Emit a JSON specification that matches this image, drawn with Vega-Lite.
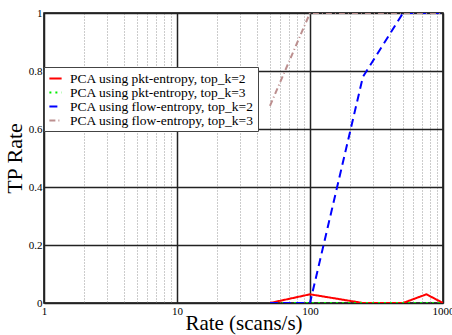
{
  "$schema": "https://vega.github.io/schema/vega-lite/v6.json",
  "width": 399,
  "height": 290,
  "autosize": "none",
  "padding": {"left": 44, "top": 13, "right": 9, "bottom": 32},
  "background": "white",
  "config": {
    "view": {"stroke": "black", "strokeWidth": 1.5},
    "font": "Liberation Serif",
    "style": {"guide-label": {"font": "Liberation Serif", "fill": "black"}, "guide-title": {"font": "Liberation Serif"}},
    "legend": {"labelFont": "Liberation Serif", "labelFontSize": 13.5, "labelColor": "black"}
  },
  "data": {
    "values": [
      {"series": "PCA using pkt-entropy, top_k=2", "rate": 50, "tp": 0},
      {"series": "PCA using pkt-entropy, top_k=2", "rate": 100, "tp": 0.03},
      {"series": "PCA using pkt-entropy, top_k=2", "rate": 250, "tp": 0},
      {"series": "PCA using pkt-entropy, top_k=2", "rate": 500, "tp": 0},
      {"series": "PCA using pkt-entropy, top_k=2", "rate": 750, "tp": 0.03},
      {"series": "PCA using pkt-entropy, top_k=2", "rate": 1000, "tp": 0},
      {"series": "PCA using pkt-entropy, top_k=3", "rate": 50, "tp": 0},
      {"series": "PCA using pkt-entropy, top_k=3", "rate": 100, "tp": 0},
      {"series": "PCA using pkt-entropy, top_k=3", "rate": 250, "tp": 0},
      {"series": "PCA using pkt-entropy, top_k=3", "rate": 500, "tp": 0},
      {"series": "PCA using pkt-entropy, top_k=3", "rate": 750, "tp": 0},
      {"series": "PCA using pkt-entropy, top_k=3", "rate": 1000, "tp": 0},
      {"series": "PCA using flow-entropy, top_k=2", "rate": 50, "tp": 0},
      {"series": "PCA using flow-entropy, top_k=2", "rate": 100, "tp": 0},
      {"series": "PCA using flow-entropy, top_k=2", "rate": 250, "tp": 0.78},
      {"series": "PCA using flow-entropy, top_k=2", "rate": 500, "tp": 1},
      {"series": "PCA using flow-entropy, top_k=2", "rate": 750, "tp": 1},
      {"series": "PCA using flow-entropy, top_k=2", "rate": 1000, "tp": 1},
      {"series": "PCA using flow-entropy, top_k=3", "rate": 50, "tp": 0.68},
      {"series": "PCA using flow-entropy, top_k=3", "rate": 100, "tp": 1},
      {"series": "PCA using flow-entropy, top_k=3", "rate": 250, "tp": 1},
      {"series": "PCA using flow-entropy, top_k=3", "rate": 500, "tp": 1},
      {"series": "PCA using flow-entropy, top_k=3", "rate": 750, "tp": 1},
      {"series": "PCA using flow-entropy, top_k=3", "rate": 1000, "tp": 1}
    ]
  },
  "mark": {"type": "line", "clip": true, "strokeWidth": 2},
  "encoding": {
    "x": {
      "field": "rate",
      "type": "quantitative",
      "scale": {"type": "log", "domain": [1, 1000], "nice": false},
      "axis": {
        "title": "Rate (scans/s)",
        "titleFont": "Liberation Serif",
        "titleFontSize": 21,
        "titleFontWeight": "normal",
        "titleColor": "black",
        "titlePadding": -4,
        "values": [1,2,3,4,5,6,7,8,9,10,20,30,40,50,60,70,80,90,100,200,300,400,500,600,700,800,900,1000],
        "labelExpr": "(datum.value == 1 || datum.value == 10 || datum.value == 100 || datum.value == 1000) ? datum.label : ''",
        "format": "d",
        "labelFont": "Liberation Serif",
        "labelFontSize": 11,
        "labelColor": "black",
        "labelPadding": 2,
        "labelFlush": false,
        "labelOverlap": false,
        "ticks": false,
        "domain": false,
        "grid": true,
        "gridColor": {"condition": {"test": "datum.value == 1 || datum.value == 10 || datum.value == 100 || datum.value == 1000", "value": "#222222"}, "value": "#999999"},
        "gridDash": {"condition": {"test": "datum.value == 1 || datum.value == 10 || datum.value == 100 || datum.value == 1000", "value": []}, "value": [1, 2]},
        "gridWidth": {"condition": {"test": "datum.value == 1 || datum.value == 10 || datum.value == 100 || datum.value == 1000", "value": 1.5}, "value": 1},
        "gridOpacity": 1
      }
    },
    "y": {
      "field": "tp",
      "type": "quantitative",
      "scale": {"domain": [0, 1], "nice": false},
      "axis": {
        "title": "TP Rate",
        "titleFont": "Liberation Serif",
        "titleFontSize": 22,
        "titleFontWeight": "normal",
        "titleColor": "black",
        "titlePadding": 2,
        "values": [0, 0.2, 0.4, 0.6, 0.8, 1],
        "format": ".1~f",
        "labelFont": "Liberation Serif",
        "labelFontSize": 11,
        "labelColor": "black",
        "labelPadding": 2,
        "ticks": false,
        "domain": false,
        "grid": true,
        "gridColor": "#222222",
        "gridWidth": 1.3,
        "gridOpacity": 1
      }
    },
    "color": {
      "field": "series",
      "type": "nominal",
      "scale": {
        "domain": ["PCA using pkt-entropy, top_k=2", "PCA using pkt-entropy, top_k=3", "PCA using flow-entropy, top_k=2", "PCA using flow-entropy, top_k=3"],
        "range": ["#ff0000", "#00ee00", "#0000ff", "#bc8f8f"]
      },
      "legend": {
        "title": null,
        "orient": "none",
        "legendX": 0,
        "legendY": 54,
        "fillColor": "white",
        "strokeColor": "#444444",
        "padding": 4,
        "rowPadding": 0,
        "symbolType": "stroke",
        "symbolStrokeWidth": 2,
        "symbolSize": 150,
        "labelFont": "Liberation Serif",
        "labelFontSize": 13.5,
        "labelColor": "black",
        "labelLimit": 300,
        "labelOffset": 7
      }
    },
    "strokeDash": {
      "field": "series",
      "type": "nominal",
      "scale": {
        "domain": ["PCA using pkt-entropy, top_k=2", "PCA using pkt-entropy, top_k=3", "PCA using flow-entropy, top_k=2", "PCA using flow-entropy, top_k=3"],
        "range": [[1, 0], [2, 4], [8, 5], [6, 3, 1, 3]]
      },
      "legend": null
    }
  }
}
